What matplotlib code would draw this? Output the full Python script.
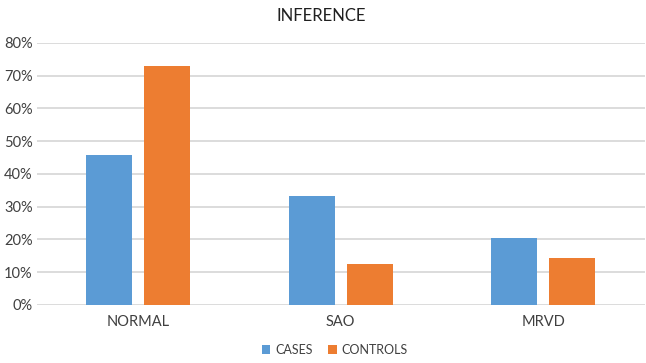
import matplotlib.pyplot as plt
import numpy as np

categories = ["NORMAL", "SAO", "MRVD"]
cases = [45.9, 33.3, 20.5]
controls = [73.0, 12.6, 14.2]

plt.rcParams['font.family'] = ['Lato', 'DejaVu Sans']

fig = plt.figure(figsize=(6.46, 3.63), dpi=100)
ax = fig.add_axes([0.057, 0.160, 0.941, 0.722])

x = np.arange(len(categories))
w = 0.227
off = 0.143
ax.bar(x - off, cases, w, color="#5B9BD5", label="CASES", zorder=3)
ax.bar(x + off, controls, w, color="#ED7D31", label="CONTROLS", zorder=3)

ax.set_xlim(-0.5, 2.5)
ax.set_ylim(0, 80)
ax.set_yticks(np.arange(0, 81, 10))
ax.set_yticklabels([f"{v}%" for v in range(0, 81, 10)], fontsize=10.5, color="#404040")
ax.set_xticks(x)
ax.set_xticklabels(categories, fontsize=10.5, color="#404040")
ax.tick_params(length=0)
ax.tick_params(axis="y", pad=3)
ax.tick_params(axis="x", pad=7)
ax.grid(axis="y", color="#D9D9D9", lw=1.3, zorder=0)
for s in ax.spines.values():
    s.set_visible(False)

fig.text(0.497, 0.955, "INFERENCE", ha="center", va="center", fontsize=12, color="#202020")
ax.legend(loc="center", bbox_to_anchor=(0.49, -0.172), ncol=2, frameon=False,
          fontsize=9, handlelength=0.7, handleheight=0.7, handletextpad=0.4,
          columnspacing=1.2, labelcolor="#404040")

plt.savefig("out.png", dpi=100)
